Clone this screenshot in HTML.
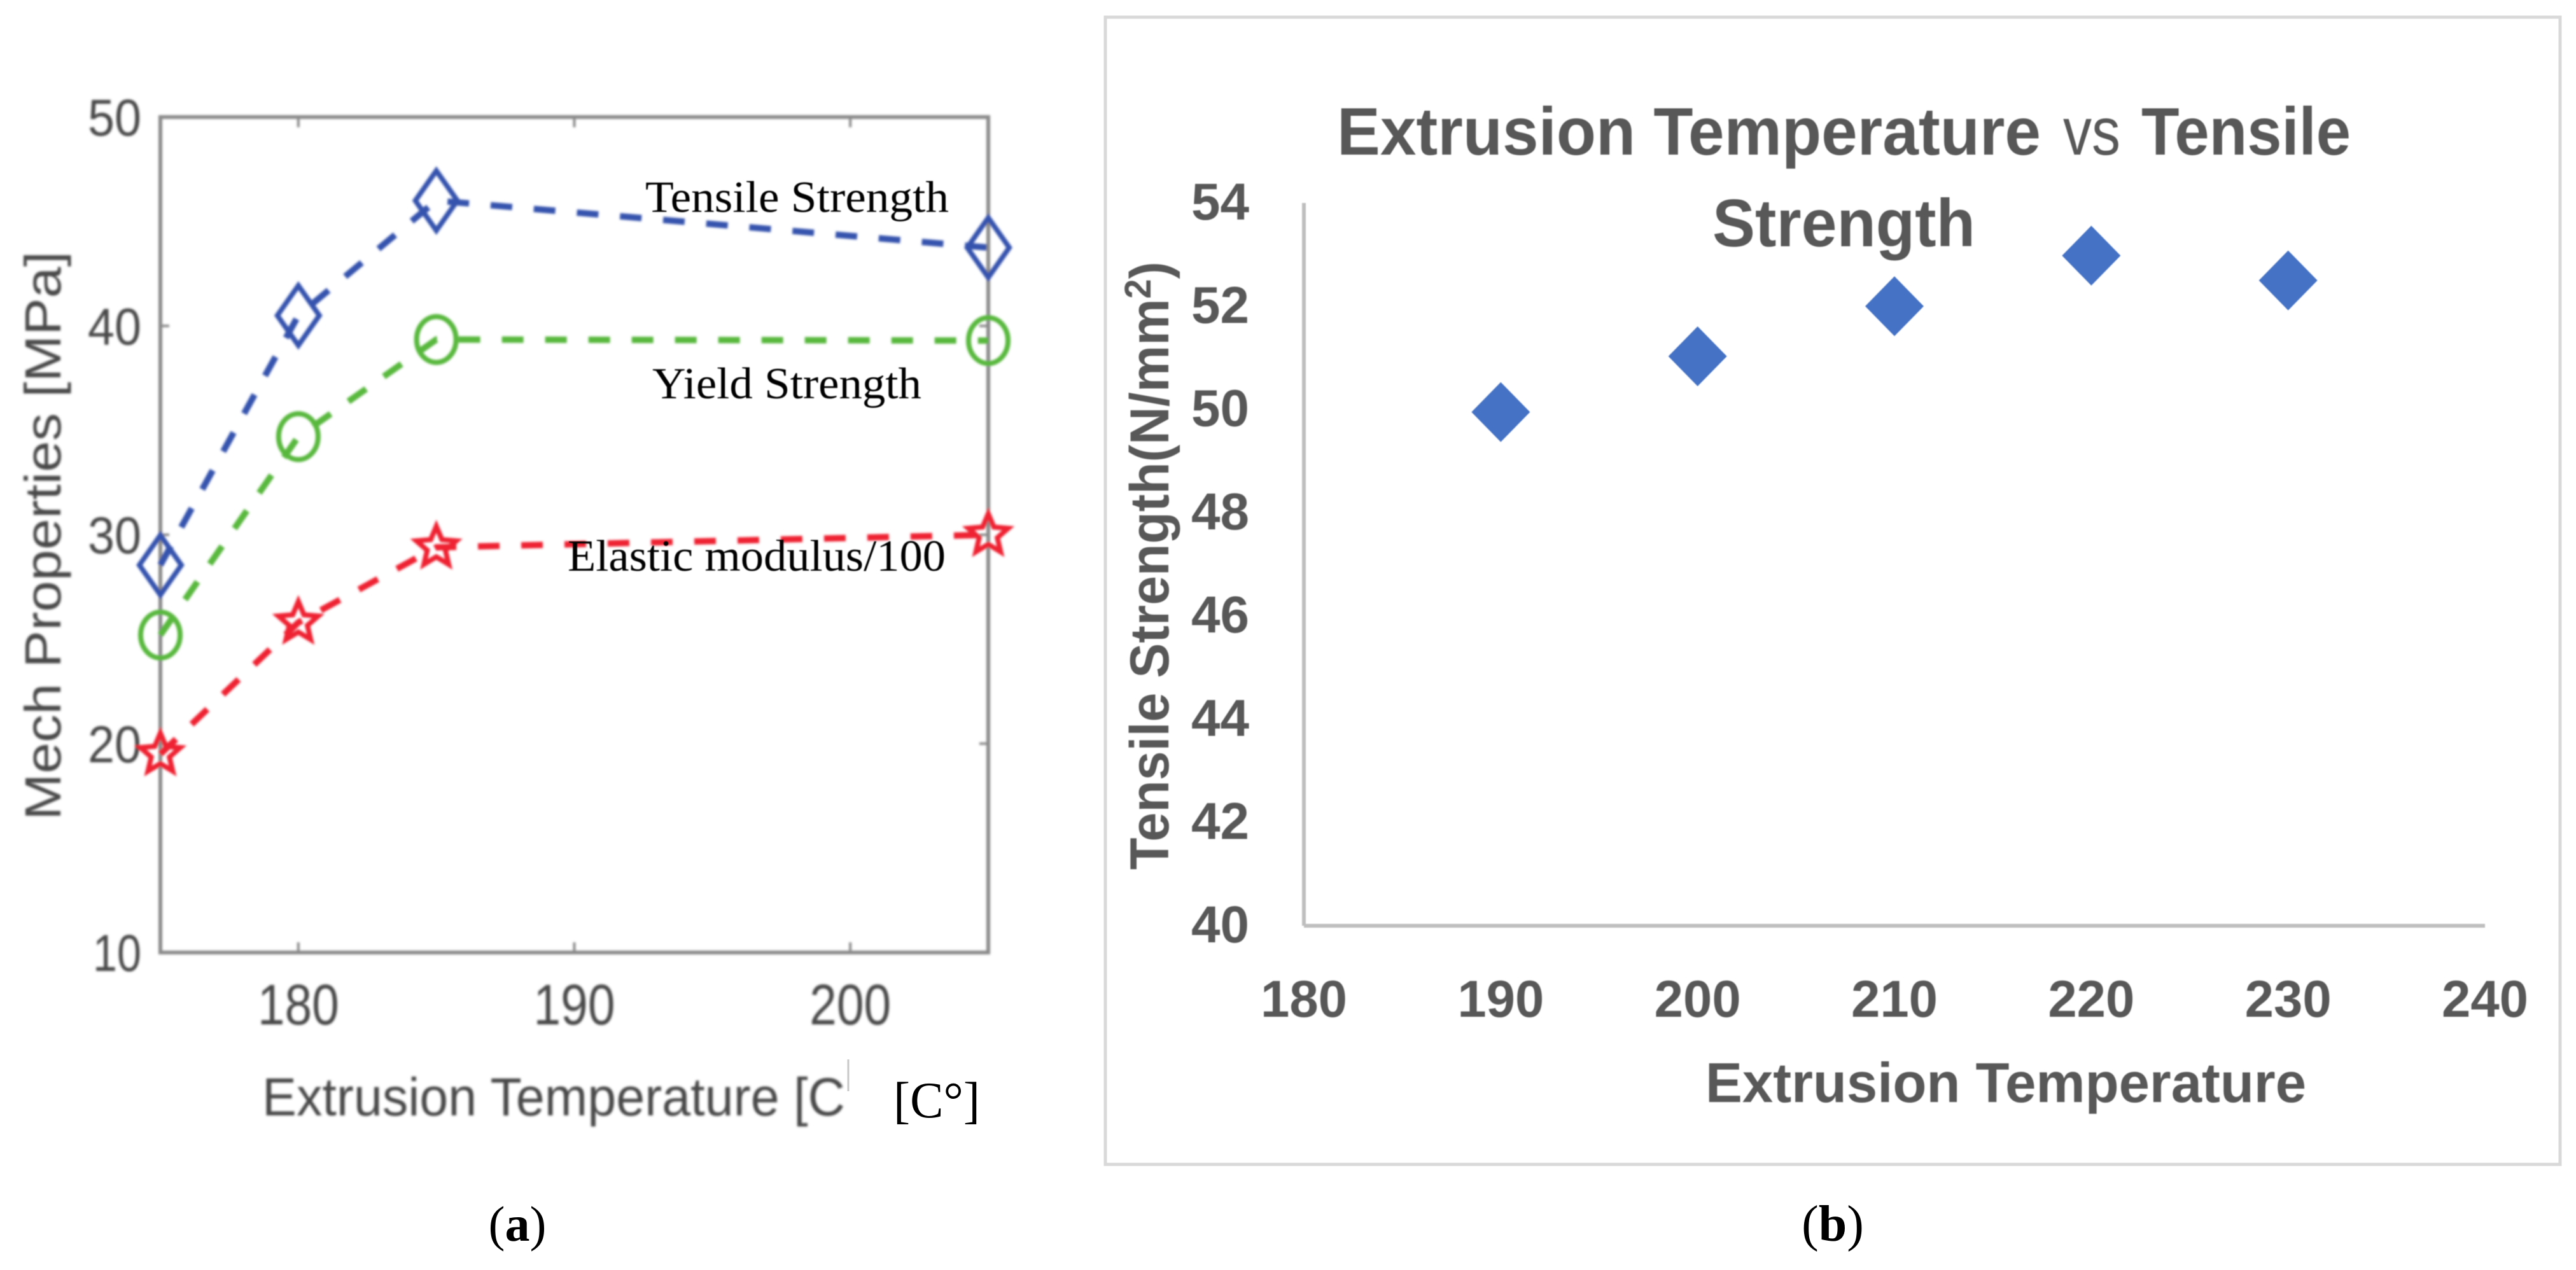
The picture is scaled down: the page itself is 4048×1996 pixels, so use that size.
<!DOCTYPE html>
<html lang="en">
<head>
<meta charset="utf-8">
<title>Extrusion temperature vs mechanical properties</title>
<style>
html,body{margin:0;padding:0;background:#fff;}
body{width:4048px;height:1996px;overflow:hidden;}
svg{display:block;}
</style>
</head>
<body>
<svg id="figure" xmlns="http://www.w3.org/2000/svg" width="4048" height="1996" viewBox="0 0 4048 1996">
<defs>
<filter id="soft" x="-5%" y="-5%" width="110%" height="110%"><feGaussianBlur stdDeviation="1.8"/></filter>
<filter id="softer" x="-5%" y="-5%" width="110%" height="110%"><feGaussianBlur stdDeviation="0.9"/></filter>
</defs>
<rect width="4048" height="1996" fill="#ffffff"/>
<g id="chartA"></g>
<g id="chartB"></g>
</svg>
<script>
// Panel (a) data
const tempsA = [175, 180, 185, 205];
const tensileA = [28.55, 40.5, 46, 43.75];
const yieldA = [25.2, 34.7, 39.35, 39.3];
const elasticA = [19.5, 25.8, 29.4, 30];
const xTicksA = [180, 190, 200];
const yTicksA = [10, 20, 30, 40, 50];

// Panel (b) data
const tempsB = [190, 200, 210, 220, 230];
const tensileB = [49.95, 51.03, 52, 52.98, 52.5];
const xTicksB = [180, 190, 200, 210, 220, 230, 240];
const yTicksB = [40, 42, 44, 46, 48, 50, 52, 54];

const NS = 'http://www.w3.org/2000/svg';
function make(parent, tag, attrs, content) {
  const el = document.createElementNS(NS, tag);
  for (const k in attrs) el.setAttribute(k, attrs[k]);
  if (content !== undefined) el.textContent = content;
  parent.appendChild(el);
  return el;
}

/* ---------- Panel A ---------- */
const gA = document.getElementById('chartA');
const ax = v => 252 + (v - 175) * (1553 - 252) / 30;
const ay = v => 184 + (50 - v) * (1497 - 184) / 40;
const SANS = '"Liberation Sans", sans-serif';
const SERIF = '"Liberation Serif", serif';
const GREY = '#8a8a8a';
const INK = '#4a4a4a';

const rasterA = make(gA, 'g', {filter: 'url(#soft)'});



let el = make(rasterA, 'rect', {x: ax(175), y: ay(50), width: ax(205) - ax(175), height: ay(10) - ay(50), fill: 'none', stroke: GREY, 'stroke-width': 6});



xTicksA.forEach(t => {
  let m = make(rasterA, 'line', {x1: ax(t), x2: ax(t), y1: ay(10), y2: ay(10) - 16, stroke: GREY, 'stroke-width': 4});
  
  
  m = make(rasterA, 'line', {x1: ax(t), x2: ax(t), y1: ay(50), y2: ay(50) + 16, stroke: GREY, 'stroke-width': 4});
  
  
  m = make(rasterA, 'text', {x: ax(t), y: 1610, 'text-anchor': 'middle', 'font-family': SANS, 'font-size': 90, fill: INK, textLength: 128, lengthAdjust: 'spacingAndGlyphs'}, String(t));
  
  
});
yTicksA.forEach(t => {
  let m = make(rasterA, 'line', {x1: ax(175), x2: ax(175) + 14, y1: ay(t), y2: ay(t), stroke: GREY, 'stroke-width': 4});
  
  
  m = make(rasterA, 'line', {x1: ax(205), x2: ax(205) - 14, y1: ay(t), y2: ay(t), stroke: GREY, 'stroke-width': 4});
  
  
  m = make(rasterA, 'text', {x: 222, y: ay(t) + 29, 'text-anchor': 'end', 'font-family': SANS, 'font-size': 82, fill: INK, textLength: t === 10 ? 76 : 84, lengthAdjust: 'spacingAndGlyphs'}, String(t));
  
  
});

el = make(rasterA, 'text', {x: 95, y: 1289, transform: 'rotate(-90 95 1289)', 'font-family': SANS, 'font-size': 80, fill: INK, textLength: 894, lengthAdjust: 'spacingAndGlyphs'}, 'Mech Properties [MPa]');



el = make(rasterA, 'text', {x: 412, y: 1753, 'font-family': SANS, 'font-size': 84, fill: INK, textLength: 916, lengthAdjust: 'spacingAndGlyphs'}, 'Extrusion Temperature [C');



el = make(gA, 'line', {x1: 1333, x2: 1333, y1: 1665, y2: 1715, stroke: '#c8c8c8', 'stroke-width': 3});



function drawLine(group, values, color) {
  const pts = tempsA.map((t, i) => ax(t) + ',' + ay(values[i])).join(' ');
  return make(group, 'polyline', {points: pts, fill: 'none', stroke: color, 'stroke-width': 10, 'stroke-dasharray': '34 34'});
}
const BLUE = '#3653ad', GREEN = '#58b83e', RED = '#ee2233';

const tensileGroup = make(rasterA, 'g', {});


el = drawLine(tensileGroup, tensileA, BLUE);


tempsA.forEach((t, i) => {
  const x = ax(t), y = ay(tensileA[i]);
  const m = make(tensileGroup, 'polygon', {points: [[x, y - 47], [x + 33, y], [x, y + 47], [x - 33, y]].join(' '), fill: 'none', stroke: BLUE, 'stroke-width': 8});
  
  
});

const yieldGroup = make(rasterA, 'g', {});


el = drawLine(yieldGroup, yieldA, GREEN);


tempsA.forEach((t, i) => {
  const m = make(yieldGroup, 'ellipse', {cx: ax(t), cy: ay(yieldA[i]), rx: 31, ry: 36, fill: 'none', stroke: GREEN, 'stroke-width': 8});
  
  
});

const elasticGroup = make(rasterA, 'g', {});


el = drawLine(elasticGroup, elasticA, RED);


function starPoints(cx, cy) {
  const out = [];
  for (let k = 0; k < 10; k++) {
    const r = k % 2 ? 15 : 33;
    const a = -Math.PI / 2 + k * Math.PI / 5;
    out.push([cx + r * Math.cos(a), cy + r * Math.sin(a)]);
  }
  return out.join(' ');
}
tempsA.forEach((t, i) => {
  const m = make(elasticGroup, 'polygon', {points: starPoints(ax(t), ay(elasticA[i])), fill: 'none', stroke: RED, 'stroke-width': 8});
  
  
});

const labelsA = make(gA, 'g', {filter: 'url(#softer)'});


el = make(labelsA, 'text', {x: 1014, y: 333, 'font-family': SERIF, 'font-size': 70, fill: '#000', textLength: 477, lengthAdjust: 'spacingAndGlyphs'}, 'Tensile Strength');


el = make(labelsA, 'text', {x: 1025, y: 626, 'font-family': SERIF, 'font-size': 70, fill: '#000', textLength: 423, lengthAdjust: 'spacingAndGlyphs'}, 'Yield Strength');


el = make(labelsA, 'text', {x: 892, y: 897, 'font-family': SERIF, 'font-size': 70, fill: '#000', textLength: 594, lengthAdjust: 'spacingAndGlyphs'}, 'Elastic modulus/100');


el = make(gA, 'text', {x: 1404, y: 1756, 'font-family': SERIF, 'font-size': 80, fill: '#000', textLength: 136, lengthAdjust: 'spacingAndGlyphs'}, '[C°]');



const capA = make(gA, 'text', {x: 813, y: 1950, 'text-anchor': 'middle', 'font-family': SERIF, 'font-size': 78, fill: '#000'});


capA.appendChild(document.createTextNode('('));
make(capA, 'tspan', {'font-weight': 'bold'}, 'a');
capA.appendChild(document.createTextNode(')'));

/* ---------- Panel B ---------- */
const gB = document.getElementById('chartB');
const bx = v => 2049 + (v - 180) * (3905 - 2049) / 60;
const by = v => 319 + (54 - v) * (1455 - 319) / 14;
const TXT = '#595959';

el = make(gB, 'rect', {x: 1737, y: 27, width: 2286, height: 1803, fill: '#ffffff', stroke: '#d9d9d9', 'stroke-width': 5});



const rasterB = make(gB, 'g', {filter: 'url(#softer)'});



el = make(rasterB, 'line', {x1: bx(180), x2: bx(180), y1: by(54), y2: by(40), stroke: '#bfbfbf', 'stroke-width': 6});


el = make(rasterB, 'line', {x1: bx(180), x2: bx(240), y1: by(40), y2: by(40), stroke: '#bfbfbf', 'stroke-width': 6});



yTicksB.forEach(t => {
  const m = make(rasterB, 'text', {x: 1963, y: by(t) + 26, 'text-anchor': 'end', 'font-family': SANS, 'font-weight': 'bold', 'font-size': 82, fill: TXT, textLength: 91, lengthAdjust: 'spacingAndGlyphs'}, String(t));
  
  
});
xTicksB.forEach(t => {
  const m = make(rasterB, 'text', {x: bx(t), y: 1598, 'text-anchor': 'middle', 'font-family': SANS, 'font-weight': 'bold', 'font-size': 82, fill: TXT, textLength: 136, lengthAdjust: 'spacingAndGlyphs'}, String(t));
  
  
});

el = make(rasterB, 'text', {x: 2101, y: 243, 'font-family': SANS, 'font-weight': 'bold', 'font-size': 106, fill: TXT, textLength: 1106, lengthAdjust: 'spacingAndGlyphs'}, 'Extrusion Temperature');


el = make(rasterB, 'text', {x: 3242, y: 243, 'font-family': SANS, 'font-size': 106, fill: TXT, textLength: 90, lengthAdjust: 'spacingAndGlyphs'}, 'vs');


el = make(rasterB, 'text', {x: 3365, y: 243, 'font-family': SANS, 'font-weight': 'bold', 'font-size': 106, fill: TXT, textLength: 329, lengthAdjust: 'spacingAndGlyphs'}, 'Tensile');


el = make(rasterB, 'text', {x: 2691, y: 387, 'font-family': SANS, 'font-weight': 'bold', 'font-size': 106, fill: TXT, textLength: 413, lengthAdjust: 'spacingAndGlyphs'}, 'Strength');



el = make(rasterB, 'text', {x: 2680, y: 1732, 'font-family': SANS, 'font-weight': 'bold', 'font-size': 88, fill: TXT, textLength: 944, lengthAdjust: 'spacingAndGlyphs'}, 'Extrusion Temperature');



const yTitle = make(rasterB, 'text', {x: 1836, y: 1367, transform: 'rotate(-90 1836 1367)', 'font-family': SANS, 'font-weight': 'bold', 'font-size': 86, fill: TXT, textLength: 956, lengthAdjust: 'spacingAndGlyphs'});


yTitle.appendChild(document.createTextNode('Tensile Strength(N/mm'));
make(yTitle, 'tspan', {dy: -28, 'font-size': 58}, '2');
make(yTitle, 'tspan', {dy: 28}, ')');

tempsB.forEach((t, i) => {
  const x = bx(t), y = by(tensileB[i]);
  const m = make(rasterB, 'polygon', {points: [[x, y - 47], [x + 46, y], [x, y + 47], [x - 46, y]].join(' '), fill: '#4472c4'});
  
  
});

const capB = make(gB, 'text', {x: 2880, y: 1950, 'text-anchor': 'middle', 'font-family': SERIF, 'font-size': 80, fill: '#000'});


capB.appendChild(document.createTextNode('('));
make(capB, 'tspan', {'font-weight': 'bold'}, 'b');
capB.appendChild(document.createTextNode(')'));
</script>
</body>
</html>
